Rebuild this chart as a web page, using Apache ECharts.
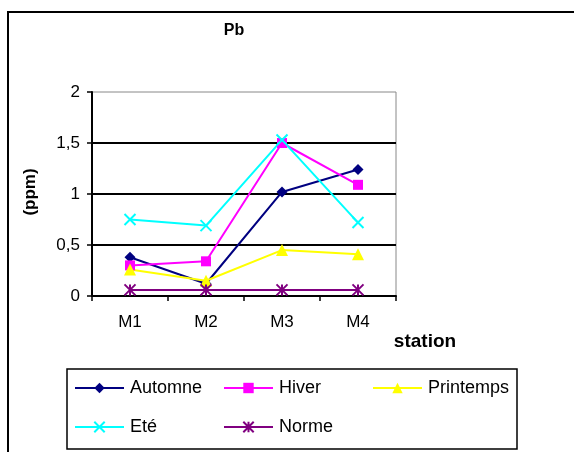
<!DOCTYPE html>
<html>
<head>
<meta charset="utf-8">
<script src="https://cdn.jsdelivr.net/npm/echarts@6/dist/echarts.min.js"></script>
<style>
  html, body { margin: 0; padding: 0; background: #fff; }
  #chart { width: 574px; height: 452px; }
</style>
</head>
<body>
<div id="chart"></div>
<script>
// Pb concentrations (ppm) per station and season
const stations = ['M1', 'M2', 'M3', 'M4'];
const automne = [0.38, 0.12, 1.02, 1.24];
const hiver = [0.30, 0.34, 1.50, 1.09];
const printemps = [0.26, 0.15, 0.45, 0.41];
const ete = [0.75, 0.69, 1.53, 0.72];
const norme = [0.06, 0.06, 0.06, 0.06];
const yTicks = [0, 0.5, 1, 1.5, 2];

const FONT = 'Arial, "Liberation Sans", sans-serif';
const SYM_X = 'path://M0,0L10,10M10,0L0,10';
const SYM_STAR = 'path://M5,0L5,10M0,0L10,10M10,0L0,10';

const seriesDefs = [
  { name: 'Automne', data: automne, color: '#000080', symbol: 'diamond', size: 11 },
  { name: 'Hiver', data: hiver, color: '#FF00FF', symbol: 'rect', size: 10 },
  { name: 'Printemps', data: printemps, color: '#FFFF00', symbol: 'triangle', size: 12 },
  { name: 'Eté', data: ete, color: '#00FFFF', symbol: SYM_X, size: 11, stroke: true },
  { name: 'Norme', data: norme, color: '#800080', symbol: SYM_STAR, size: 11, stroke: true }
];

const series = seriesDefs.map(d => ({
  name: d.name,
  type: 'line',
  data: d.data,
  symbol: d.symbol,
  symbolSize: d.size,
  showAllSymbol: true,
  lineStyle: { color: d.color, width: 2 },
  itemStyle: d.stroke
    ? { color: 'rgba(0,0,0,0)', borderColor: d.color, borderWidth: 2 }
    : { color: d.color, borderWidth: 0 },
  emphasis: { disabled: true },
  animation: false,
  z: 3
}));

// legend placement: three columns, two rows
const legendPos = [
  [74, 379], [223, 379], [372, 379],
  [74, 418], [223, 418]
];
const legends = seriesDefs.map((d, i) => ({
  data: [d.name],
  left: legendPos[i][0],
  top: legendPos[i][1],
  itemWidth: 49,
  itemHeight: 13,
  itemGap: 0,
  padding: 0,
  selectedMode: false,
  textStyle: { fontFamily: FONT, fontSize: 18, color: '#000', padding: [0, 0, 0, 1] }
}));

const chart = echarts.init(document.getElementById('chart'), null, { renderer: 'canvas' });
chart.setOption({
  backgroundColor: '#fff',
  animation: false,
  grid: {
    left: 92, top: 92, right: 178, bottom: 156,
    show: true, borderColor: '#888', borderWidth: 1, backgroundColor: 'transparent'
  },
  xAxis: {
    type: 'category',
    data: stations,
    boundaryGap: true,
    axisLine: { lineStyle: { color: '#000', width: 2 } },
    axisTick: { show: true, length: 5, inside: false, lineStyle: { color: '#000', width: 1.5 } },
    axisLabel: { fontFamily: FONT, fontSize: 17, color: '#000', margin: 18 },
    splitLine: { show: false }
  },
  yAxis: {
    type: 'value',
    min: yTicks[0],
    max: yTicks[yTicks.length - 1],
    interval: 0.5,
    axisLine: { show: true, lineStyle: { color: '#000', width: 2 } },
    axisTick: { show: true, length: 5, lineStyle: { color: '#000', width: 1.5 } },
    axisLabel: {
      fontFamily: FONT, fontSize: 17, color: '#000', margin: 12,
      formatter: v => String(v).replace('.', ',')
    },
    splitLine: {
      show: true,
      lineStyle: { color: '#000', width: 2 },
      showMinLine: false,
      showMaxLine: false
    }
  },
  legend: legends,
  series: series,
  graphic: [
    {
      type: 'polyline',
      shape: { points: [[8, 452], [8, 12], [574, 12]] },
      style: { stroke: '#000', lineWidth: 2, fill: null },
      silent: true
    },
    {
      type: 'rect',
      shape: { x: 67, y: 369, width: 450, height: 80 },
      style: { stroke: '#000', lineWidth: 1.5, fill: null },
      silent: true
    },
    {
      type: 'text',
      x: 234, y: 31,
      style: { text: 'Pb', font: 'bold 16px ' + FONT, fill: '#000', align: 'center', verticalAlign: 'middle' }
    },
    {
      type: 'text',
      x: 425, y: 342,
      style: { text: 'station', font: 'bold 19px ' + FONT, fill: '#000', align: 'center', verticalAlign: 'middle' }
    },
    {
      type: 'text',
      x: 30, y: 192,
      rotation: Math.PI / 2,
      style: { text: '(ppm)', font: 'bold 17px ' + FONT, fill: '#000', align: 'center', verticalAlign: 'middle' }
    }
  ]
});
</script>
</body>
</html>
